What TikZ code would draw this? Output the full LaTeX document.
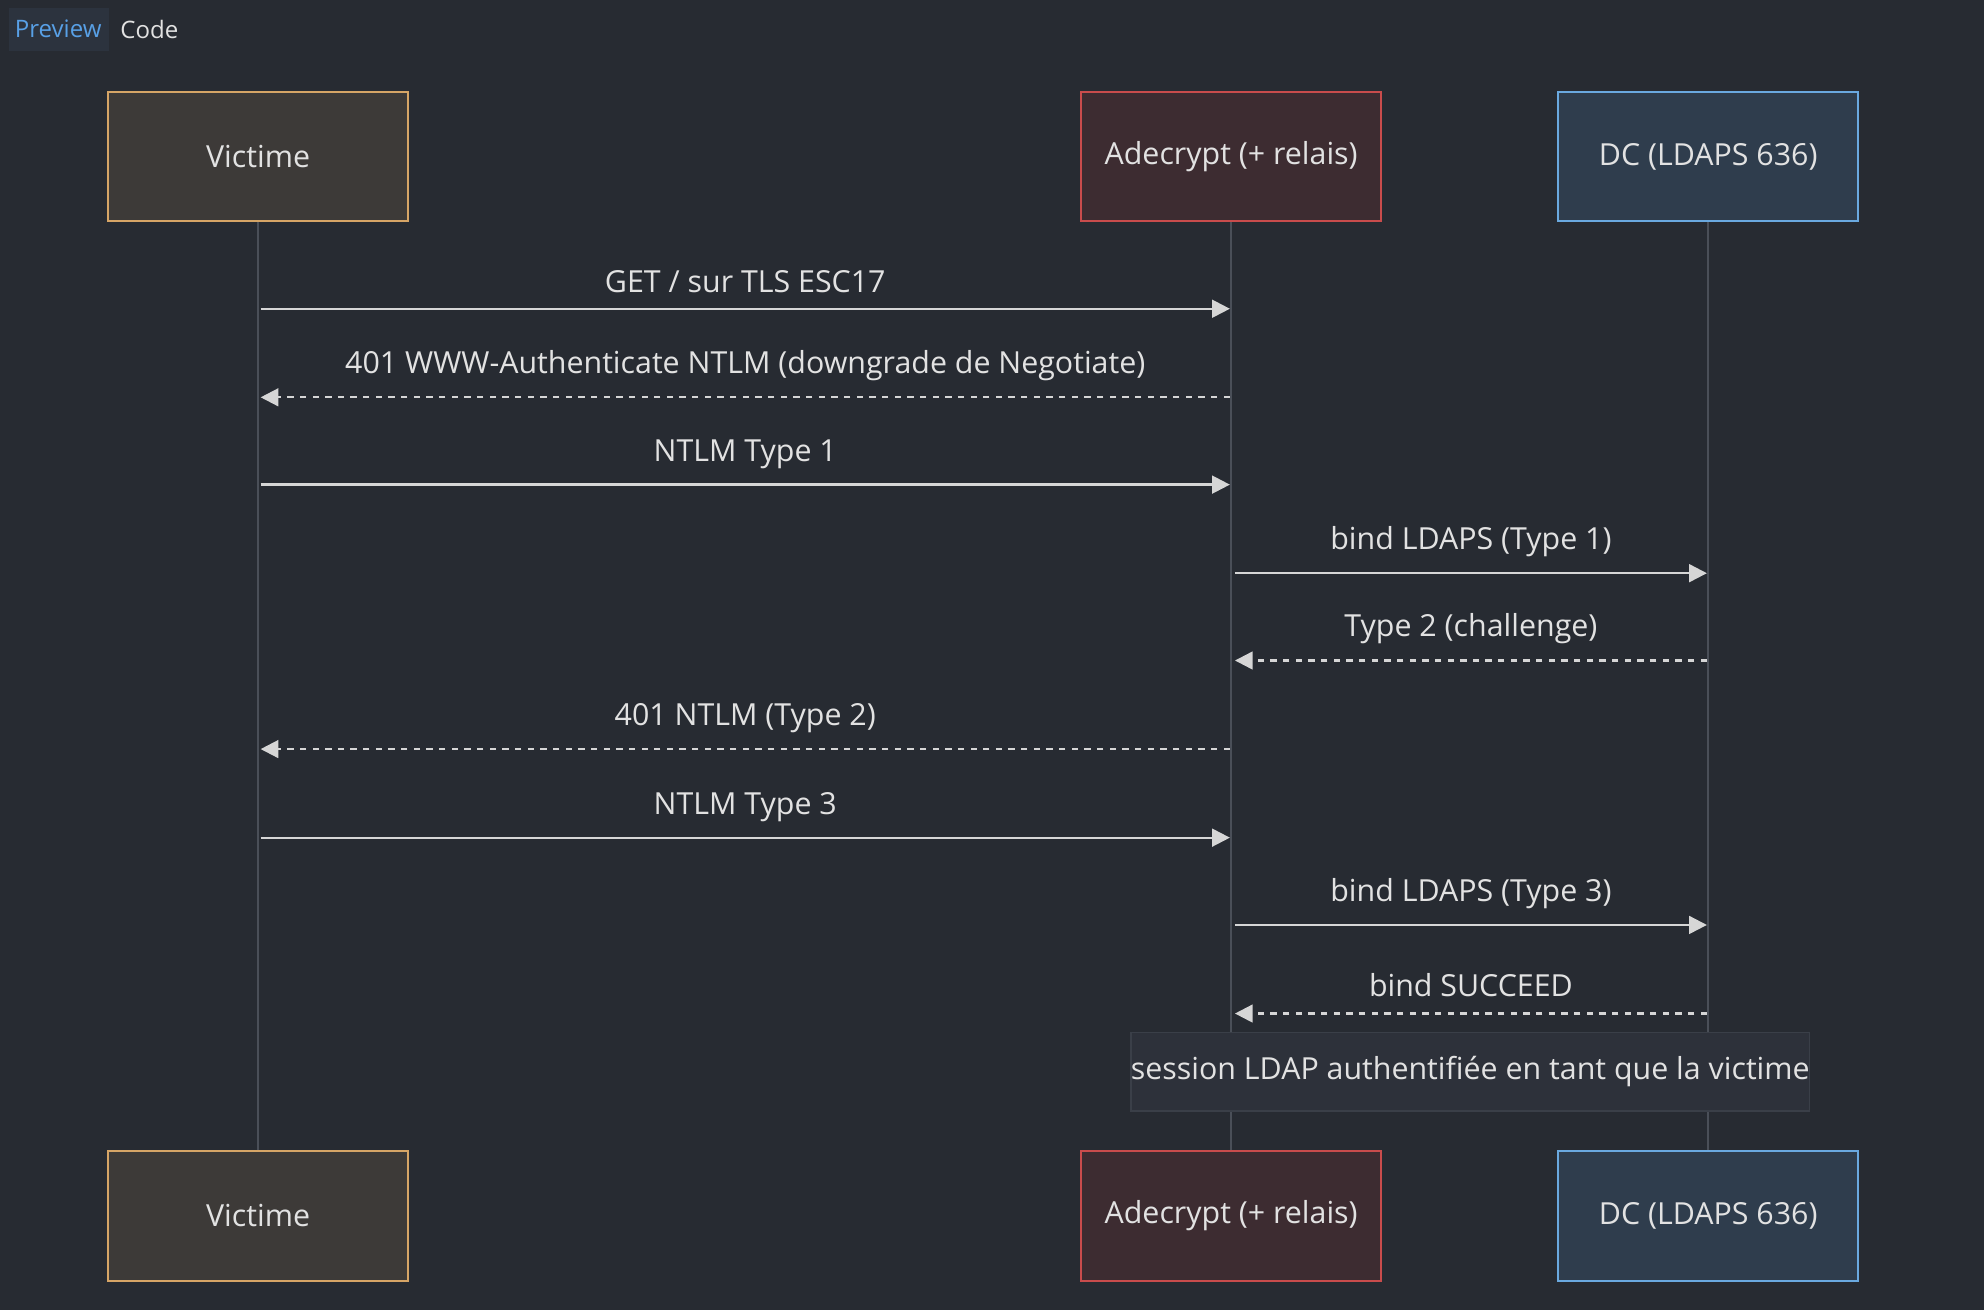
\documentclass[tikz,border=0pt]{standalone}
\usepackage{fontspec}
\setmainfont{Open Sans}
\usetikzlibrary{arrows.meta}
\definecolor{bg}{HTML}{272B32}
\definecolor{txt}{HTML}{E2E2E2}
\definecolor{ln}{HTML}{D6D6D6}
\definecolor{life}{HTML}{4A4F58}
\definecolor{vfill}{HTML}{3D3A38}\definecolor{vdraw}{HTML}{D6A566}
\definecolor{afill}{HTML}{3D2C31}\definecolor{adraw}{HTML}{C94C4C}
\definecolor{dfill}{HTML}{2F3D4D}\definecolor{ddraw}{HTML}{6AA9E0}
\definecolor{tabbg}{HTML}{2C333E}\definecolor{tabtx}{HTML}{58A0E6}
\definecolor{notebg}{HTML}{2D313A}\definecolor{notedr}{HTML}{3A3F48}
\tikzset{
 actor/.style={draw,line width=0.8pt,minimum width=118.5pt,minimum height=51pt,text=txt,font=\fontsize{12}{14}\selectfont},
 va/.style={actor,fill=vfill,draw=vdraw},
 aa/.style={actor,fill=afill,draw=adraw},
 da/.style={actor,fill=dfill,draw=ddraw},
 msg/.style={draw=ln,line width=0.9pt,-{Triangle[length=7pt,width=7pt]}},
 rep/.style={msg,dash pattern=on 2.5pt off 2.5pt},
 lab/.style={text=txt,font=\fontsize{12}{14}\selectfont,inner sep=0pt},
 lifel/.style={draw=life,line width=1pt}
}
\begin{document}
\begin{tikzpicture}[x=0.5pt,y=-0.5pt]
\fill[bg] (0,0) rectangle (1568,1035);
\useasboundingbox (0,0) rectangle (1568,1035);
\fill[tabbg] (7,6) rectangle (86,40);
\node[text=tabtx,font=\fontsize{9.5}{11}\selectfont] (tp) at (46,23) {Preview};
\node[text=txt,font=\fontsize{9.5}{11}\selectfont] (tc) at (118,23) {Code};
\node[va] (v1) at (204,124) {Victime};
\node[aa] (a1) at (973,124) {Adecrypt (+ relais)};
\node[da] (d1) at (1350,124) {DC (LDAPS 636)};
\node[va] (v2) at (204,961) {Victime};
\node[aa] (a2) at (973,961) {Adecrypt (+ relais)};
\node[da] (d2) at (1350,961) {DC (LDAPS 636)};
\draw[lifel] (v1) -- (v2);
\draw[lifel] (a1) -- (a2);
\draw[lifel] (d1) -- (d2);
\node[fill=notebg,draw=notedr,line width=0.5pt,minimum width=228pt,minimum height=31pt,lab] (note) at (1162,847) {session LDAP authentifiée en tant que la victime};
\foreach \n/\x in {v/206,a/972,d/1349,A/976}{
 \foreach \i/\y in {1/244,2/314,3/383,4/453,5/522,6/592,7/662,8/731,9/801}{
  \coordinate (\n\i) at (\x,\y);
 }}
\draw[msg] (v1) -- (a1) node[lab,midway,above=6pt] {GET / sur TLS ESC17};
\draw[rep] (a2) -- (v2) node[lab,midway,above=6pt] {401 WWW-Authenticate NTLM (downgrade de Negotiate)};
\draw[msg] (v3) -- (a3) node[lab,midway,above=6pt] {NTLM Type 1};
\draw[msg] (A4) -- (d4) node[lab,midway,above=6pt] {bind LDAPS (Type 1)};
\draw[rep] (d5) -- (A5) node[lab,midway,above=6pt] {Type 2 (challenge)};
\draw[rep] (a6) -- (v6) node[lab,midway,above=6pt] {401 NTLM (Type 2)};
\draw[msg] (v7) -- (a7) node[lab,midway,above=6pt] {NTLM Type 3};
\draw[msg] (A8) -- (d8) node[lab,midway,above=6pt] {bind LDAPS (Type 3)};
\draw[rep] (d9) -- (A9) node[lab,midway,above=6pt] {bind SUCCEED};
\end{tikzpicture}
\end{document}
